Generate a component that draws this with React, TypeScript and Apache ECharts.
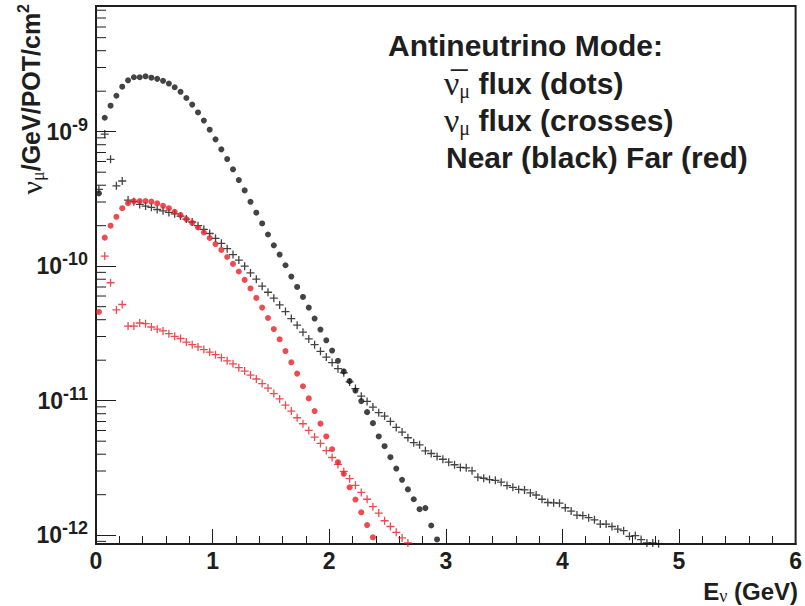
import React, { useEffect, useRef } from 'react';
import * as echarts from 'echarts';

// Bin structure: 0.05 GeV wide bins, values plotted at bin centres
const BIN_WIDTH = 0.05;

// Near detector, antineutrino (nu-mu-bar) flux — black dots
const nearAntiNumuDots: (number | null)[] = [
  3.48e-10, 1.27e-9, 1.56e-9, 1.85e-9, 2.16e-9, 2.41e-9, 2.54e-9, 2.54e-9, 2.58e-9, 2.52e-9,
  2.47e-9, 2.39e-9, 2.28e-9, 2.14e-9, 1.98e-9, 1.78e-9, 1.59e-9, 1.39e-9, 1.21e-9, 1.035e-9,
  8.77e-10, 7.39e-10, 6.26e-10, 5.25e-10, 4.37e-10, 3.66e-10, 3.01e-10, 2.5e-10, 2.08e-10, 1.72e-10,
  1.43e-10, 1.22e-10, 1.016e-10, 8.37e-11, 7.01e-11, 5.91e-11, 4.92e-11, 4.08e-11, 3.38e-11, 2.81e-11,
  2.36e-11, 1.98e-11, 1.65e-11, 1.4e-11, 1.19e-11, 9.93e-12, 8.22e-12, 6.81e-12, 5.42e-12, 4.59e-12,
  3.8e-12, 3.13e-12, 2.58e-12, 2.19e-12, 1.85e-12, 1.56e-12, 1.59e-12, 1.18e-12, 9.3e-13,
];

// Near detector, neutrino (nu-mu) flux — black crosses
const nearNumuCrosses: (number | null)[] = [
  3.72e-10, 9.6e-10, 6.23e-10, 3.96e-10, 4.3e-10, 3.1e-10, 3.02e-10, 2.88e-10, 2.8e-10, 2.74e-10,
  2.64e-10, 2.58e-10, 2.51e-10, 2.45e-10, 2.36e-10, 2.24e-10, 2.13e-10, 2.0e-10, 1.88e-10, 1.75e-10,
  1.61e-10, 1.48e-10, 1.35e-10, 1.22e-10, 1.11e-10, 1.0e-10, 8.91e-11, 8.0e-11, 7.1e-11, 6.4e-11,
  5.78e-11, 5.15e-11, 4.6e-11, 4.08e-11, 3.64e-11, 3.23e-11, 2.88e-11, 2.61e-11, 2.33e-11, 2.11e-11,
  1.92e-11, 1.73e-11, 1.61e-11, 1.38e-11, 1.23e-11, 1.08e-11, 9.88e-12, 8.96e-12, 8.14e-12, 7.68e-12,
  7.01e-12, 6.33e-12, 5.84e-12, 5.3e-12, 4.87e-12, 4.7e-12, 4.24e-12, 4.05e-12, 3.85e-12, 3.67e-12,
  3.49e-12, 3.34e-12, 3.19e-12, 3.17e-12, 3.01e-12, 2.7e-12, 2.65e-12, 2.59e-12, 2.56e-12, 2.48e-12,
  2.34e-12, 2.27e-12, 2.19e-12, 2.17e-12, 2.06e-12, 1.99e-12, 1.85e-12, 1.75e-12, 1.74e-12, 1.73e-12,
  1.6e-12, 1.51e-12, 1.41e-12, 1.4e-12, 1.35e-12, 1.3e-12, 1.21e-12, 1.21e-12, 1.16e-12, 1.11e-12,
  1.08e-12, 9.8e-13, 9.93e-13, 9.27e-13, 8.75e-13, 8.75e-13, 8.65e-13,
];

// Far detector, antineutrino flux — red dots
const farAntiNumuDots: (number | null)[] = [
  4.57e-11, 1.63e-10, 2.0e-10, 2.33e-10, 2.7e-10, 2.94e-10, 3.05e-10, 3.05e-10, 3.05e-10, 3.02e-10,
  2.93e-10, 2.81e-10, 2.7e-10, 2.54e-10, 2.4e-10, 2.24e-10, 2.1e-10, 1.94e-10, 1.78e-10, 1.62e-10,
  1.46e-10, 1.32e-10, 1.17e-10, 1.04e-10, 9.13e-11, 7.91e-11, 6.83e-11, 5.81e-11, 4.92e-11, 4.12e-11,
  3.41e-11, 2.86e-11, 2.34e-11, 1.93e-11, 1.59e-11, 1.28e-11, 1.04e-11, 8.37e-12, 6.75e-12, 5.42e-12,
  4.36e-12, 3.49e-12, 2.86e-12, 2.27e-12, 1.84e-12, 1.48e-12, 1.19e-12, 9.64e-13,
];

// Far detector, neutrino flux — red crosses
const farNumuCrosses: (number | null)[] = [
  null, 1.19e-10, 7.53e-11, 4.73e-11, 5.19e-11, 3.59e-11, 3.59e-11, 3.78e-11, 3.74e-11, 3.53e-11,
  3.4e-11, 3.3e-11, 3.15e-11, 3.01e-11, 2.9e-11, 2.73e-11, 2.61e-11, 2.51e-11, 2.4e-11, 2.3e-11,
  2.2e-11, 2.09e-11, 1.98e-11, 1.88e-11, 1.76e-11, 1.66e-11, 1.55e-11, 1.45e-11, 1.34e-11, 1.24e-11,
  1.13e-11, 1.03e-11, 9.26e-12, 8.37e-12, 7.47e-12, 6.74e-12, 6.01e-12, 5.36e-12, 4.81e-12, 4.26e-12,
  3.78e-12, 3.36e-12, 2.98e-12, 2.63e-12, 2.35e-12, 2.08e-12, 1.85e-12, 1.63e-12, 1.46e-12, 1.28e-12,
  1.16e-12, 1.05e-12, 9.55e-13, 8.75e-13,
];

// Axis ranges and tick values
const X_MIN = 0;
const X_MAX = 6;
const Y_MIN = 8.6e-13;
const Y_MAX = 8.6e-9;
const yMinorTickValues = [
  9e-13,
  2e-12, 3e-12, 4e-12, 5e-12, 6e-12, 7e-12, 8e-12, 9e-12,
  2e-11, 3e-11, 4e-11, 5e-11, 6e-11, 7e-11, 8e-11, 9e-11,
  2e-10, 3e-10, 4e-10, 5e-10, 6e-10, 7e-10, 8e-10, 9e-10,
  2e-9, 3e-9, 4e-9, 5e-9, 6e-9, 7e-9, 8e-9,
];

// Annotation texts
const annotationTitle = 'Antineutrino Mode:';
const annotationDots = ' flux (dots)';
const annotationCrosses = ' flux (crosses)';
const annotationColours = 'Near (black) Far (red)';

const SANS = "'Liberation Sans', Arial, Helvetica, sans-serif";
const SERIF = "'Liberation Serif', 'Times New Roman', serif";
const BLACK = '#141414';
const RED = '#ea1d25';
const AXIS = '#1e1e1e';

const CROSS = 'path://M3.35,0H4.65V3.35H8V4.65H4.65V8H3.35V4.65H0V3.35H3.35Z';

function toPoints(vals: (number | null)[]) {
  const pts: [number, number][] = [];
  vals.forEach((v, i) => {
    if (v != null) pts.push([+(BIN_WIDTH * (i + 0.5)).toFixed(3), v]);
  });
  return pts;
}

export default function App() {
  const ref = useRef<HTMLDivElement>(null);

  useEffect(() => {
    document.body.style.margin = '0';
    if (!ref.current) return;
    const chart = echarts.init(ref.current, undefined, { renderer: 'svg' });

    const option: any = {
      animation: false,
      backgroundColor: '#ffffff',
      grid: {
        left: 96,
        right: 8,
        top: 6,
        bottom: 62,
        show: true,
        borderColor: AXIS,
        borderWidth: 2,
        backgroundColor: 'transparent',
      },
      xAxis: {
        type: 'value',
        min: X_MIN,
        max: X_MAX,
        interval: 1,
        axisLine: { show: true, lineStyle: { color: AXIS, width: 2 } },
        axisTick: { show: true, inside: true, length: 15, lineStyle: { color: AXIS, width: 1 } },
        minorTick: { show: true, splitNumber: 5, length: 8, lineStyle: { color: AXIS, width: 1 } },
        splitLine: { show: false },
        axisLabel: {
          color: AXIS,
          fontSize: 23,
          fontWeight: 'bold',
          fontFamily: SANS,
          margin: 5,
          showMinLabel: true,
          showMaxLabel: true,
        },
      },
      yAxis: {
        type: 'log',
        logBase: 10,
        min: Y_MIN,
        max: Y_MAX,
        axisLine: { show: true, lineStyle: { color: AXIS, width: 2 } },
        axisTick: { show: true, inside: true, length: 20, lineStyle: { color: AXIS, width: 1 } },
        splitLine: { show: false },
        axisLabel: {
          margin: 8,
          formatter: (v: number) => {
            const e = Math.log10(v);
            const r = Math.round(e);
            if (Math.abs(e - r) > 1e-6) return '';
            return `{b|10}{s|${r}}`;
          },
          rich: {
            b: { fontSize: 23, fontWeight: 'bold', fontFamily: SANS, color: AXIS, lineHeight: 32 },
            s: { fontSize: 18, fontWeight: 'bold', fontFamily: SANS, color: AXIS, lineHeight: 18, verticalAlign: 'top' },
          },
        },
      },
      series: [
        {
          type: 'custom',
          name: 'yMinorTicks',
          silent: true,
          clip: false,
          data: yMinorTickValues.map((v) => [X_MIN, v]),
          renderItem: (params: any, api: any) => {
            const p = api.coord([api.value(0), api.value(1)]);
            return {
              type: 'line',
              shape: { x1: p[0], y1: p[1], x2: p[0] + 10, y2: p[1] },
              style: { stroke: AXIS, lineWidth: 1 },
            };
          },
          z: 1,
        },
        {
          type: 'scatter',
          name: 'near nubar',
          data: toPoints(nearAntiNumuDots),
          symbol: 'circle',
          symbolSize: 6,
          itemStyle: { color: BLACK },
          z: 3,
        },
        {
          type: 'scatter',
          name: 'near nu',
          data: toPoints(nearNumuCrosses),
          symbol: CROSS,
          symbolSize: 8,
          itemStyle: { color: BLACK },
          z: 3,
        },
        {
          type: 'scatter',
          name: 'far nubar',
          data: toPoints(farAntiNumuDots),
          symbol: 'circle',
          symbolSize: 6,
          itemStyle: { color: RED },
          z: 4,
        },
        {
          type: 'scatter',
          name: 'far nu',
          data: toPoints(farNumuCrosses),
          symbol: CROSS,
          symbolSize: 8,
          itemStyle: { color: RED },
          z: 4,
        },
      ],
      graphic: [
        // y-axis title (rotated)
        {
          type: 'text',
          x: 31,
          y: 4,
          rotation: Math.PI / 2,
          style: {
            text: '{nu|ν}{mu|μ}{t|/GeV/POT/cm}{sup|2}',
            textAlign: 'right',
            textVerticalAlign: 'middle',
            fill: AXIS,
            rich: {
              nu: { fontFamily: SERIF, fontSize: 30, fill: AXIS, lineHeight: 32 },
              mu: { fontFamily: SERIF, fontSize: 18, fill: AXIS, lineHeight: 14, verticalAlign: 'bottom' },
              t: { fontFamily: SANS, fontWeight: 'bold', fontSize: 25, fill: AXIS, lineHeight: 32 },
              sup: { fontFamily: SANS, fontWeight: 'bold', fontSize: 16, fill: AXIS, lineHeight: 16, verticalAlign: 'top' },
            },
          },
        },
        // x-axis title
        {
          type: 'text',
          x: 798,
          y: 591,
          style: {
            text: '{t|E}{nu|ν}{t| (GeV)}',
            textAlign: 'right',
            textVerticalAlign: 'middle',
            fill: AXIS,
            rich: {
              t: { fontFamily: SANS, fontWeight: 'bold', fontSize: 24, fill: AXIS, lineHeight: 28 },
              nu: { fontFamily: SERIF, fontSize: 18, fill: AXIS, lineHeight: 18, verticalAlign: 'bottom' },
            },
          },
        },
        // annotation
        {
          type: 'text',
          x: 388,
          y: 45,
          style: {
            text: annotationTitle,
            fontFamily: SANS,
            fontWeight: 'bold',
            fontSize: 30,
            fill: AXIS,
            textAlign: 'left',
            textVerticalAlign: 'middle',
          },
        },
        {
          type: 'text',
          x: 444,
          y: 83,
          style: {
            text: `{nu|ν\u0305}{mu|μ}{t|${annotationDots}}`,
            textAlign: 'left',
            textVerticalAlign: 'middle',
            fill: AXIS,
            rich: {
              nu: { fontFamily: SERIF, fontSize: 34, fill: AXIS, lineHeight: 36 },
              mu: { fontFamily: SERIF, fontSize: 20, fill: AXIS, lineHeight: 16, verticalAlign: 'bottom' },
              t: { fontFamily: SANS, fontWeight: 'bold', fontSize: 30, fill: AXIS, lineHeight: 36 },
            },
          },
        },
        {
          type: 'text',
          x: 444,
          y: 120,
          style: {
            text: `{nu|ν}{mu|μ}{t|${annotationCrosses}}`,
            textAlign: 'left',
            textVerticalAlign: 'middle',
            fill: AXIS,
            rich: {
              nu: { fontFamily: SERIF, fontSize: 34, fill: AXIS, lineHeight: 36 },
              mu: { fontFamily: SERIF, fontSize: 20, fill: AXIS, lineHeight: 16, verticalAlign: 'bottom' },
              t: { fontFamily: SANS, fontWeight: 'bold', fontSize: 30, fill: AXIS, lineHeight: 36 },
            },
          },
        },
        {
          type: 'text',
          x: 446,
          y: 157,
          style: {
            text: annotationColours,
            fontFamily: SANS,
            fontWeight: 'bold',
            fontSize: 30,
            fill: AXIS,
            textAlign: 'left',
            textVerticalAlign: 'middle',
          },
        },
      ],
    };

    chart.setOption(option);
    return () => {
      chart.dispose();
    };
  }, []);

  return <div ref={ref} style={{ width: 805, height: 606 }} />;
}
